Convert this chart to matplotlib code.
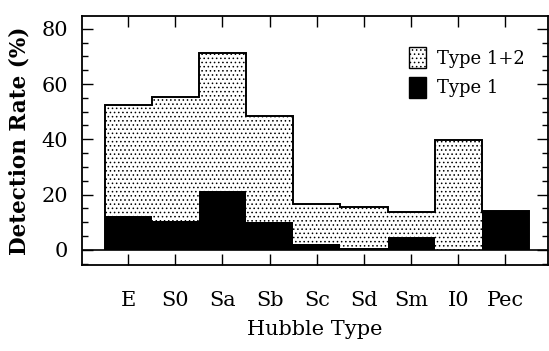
import numpy as np
import matplotlib
matplotlib.use("Agg")
import matplotlib.pyplot as plt
from matplotlib.patches import Patch
from matplotlib.ticker import MultipleLocator

# Hubble types and detection rates (%)
hubble_types = ["E", "S0", "Sa", "Sb", "Sc", "Sd", "Sm", "I0", "Pec"]
type12_rate = [52.4, 55.3, 71.4, 48.4, 16.5, 15.4, 13.8, 39.7, 14.2]
type1_rate = [12.1, 10.3, 21.2, 10.0, 2.0, 0.5, 4.8, 0.0, 14.2]

plt.rcParams['font.family'] = ['DejaVu Serif']
plt.rcParams['hatch.linewidth'] = 0.6

fig = plt.figure(figsize=(5.49, 3.51), dpi=100)
ax = fig.add_axes([0.15, 0.245, 0.848, 0.71])

pos = np.arange(1, len(hubble_types) + 1)
edges = np.append(pos - 0.5, pos[-1] + 0.5)

# dotted fill for Type 1+2, black for Type 1
ax.bar(pos, type12_rate, width=1.0, facecolor='white', edgecolor='black',
       linewidth=0, hatch='....')
ax.bar(pos, type1_rate, width=1.0, color='black', linewidth=0)
ax.stairs(type12_rate, edges, baseline=0, color='black', linewidth=1.4)
ax.axhline(0, color='black', linewidth=1.2)

ax.set_xlim(0.03, 9.9)
ax.set_ylim(-5.5, 84.7)
ax.set_xticks(pos)
ax.set_xticklabels(hubble_types)
ax.yaxis.set_major_locator(MultipleLocator(20))
ax.yaxis.set_minor_locator(MultipleLocator(5))
ax.tick_params(axis='x', which='major', direction='in', length=8, width=1,
               top=True, labelsize=15, pad=19)
ax.tick_params(axis='y', which='major', direction='in', length=8, width=1,
               right=True, labelsize=15, pad=10)
ax.tick_params(axis='y', which='minor', direction='in', length=4, width=1,
               right=True)
for s in ax.spines.values():
    s.set_linewidth(1.3)

ax.set_xlabel("Hubble Type", fontsize=15, labelpad=7)
ax.set_ylabel("Detection Rate (%)", fontsize=15.5, fontweight='bold', labelpad=8)

handles = [Patch(facecolor='white', edgecolor='black', hatch='....', label='Type 1+2'),
           Patch(facecolor='black', edgecolor='black', label='Type 1')]
ax.legend(handles=handles, loc='upper right', bbox_to_anchor=(0.985, 0.94),
          frameon=False, fontsize=13, handlelength=0.95, handleheight=1.45,
          handletextpad=0.6, labelspacing=0.45)

fig.savefig("out.png", dpi=100)
